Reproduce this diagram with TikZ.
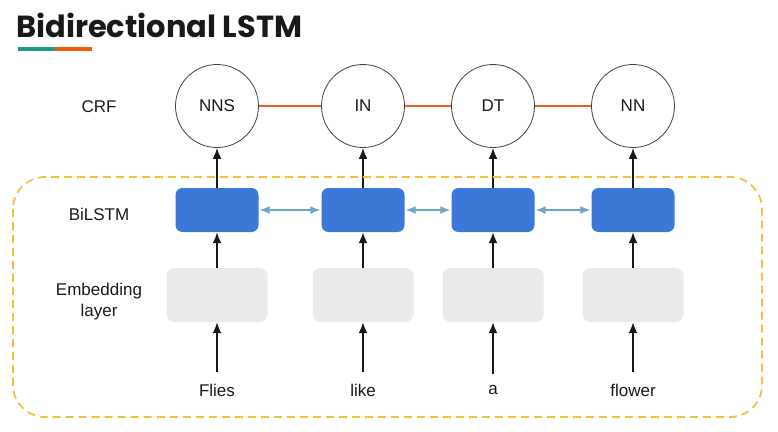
\documentclass[tikz,border=0pt]{standalone}
\usepackage{fontspec}
\setmainfont{Liberation Sans}
\newfontfamily\titlefont{Poppins}
\usepackage{tikz}
\usetikzlibrary{arrows.meta}

\definecolor{LstmBlue}{RGB}{60,120,216}
\definecolor{EmbedGray}{RGB}{232,234,235}
\definecolor{ArrowBlue}{RGB}{108,166,202}
\definecolor{CrfOrange}{RGB}{232,96,28}
\definecolor{FrameYellow}{RGB}{245,193,60}
\definecolor{TitleTeal}{RGB}{26,155,136}
\definecolor{TitleOrange}{RGB}{240,90,10}

\begin{document}
\begin{tikzpicture} [
    x = 1pt, y = -1pt,
    every node/.style = {font=\fontsize{17}{21}\selectfont, text=black!90},
    crf/.style = {circle, draw=black!75, line width=0.8pt, minimum size=83pt, inner sep=0pt},
    lstm/.style = {rectangle, rounded corners=7pt, fill=LstmBlue, minimum width=83pt, minimum height=44pt},
    embed/.style = {rectangle, rounded corners=8pt, fill=EmbedGray, minimum width=101pt, minimum height=54pt},
    up/.style = {-{Latex[length=11pt,width=9pt]}, line width=1.8pt, black!90},
    both/.style = {{Latex[length=10pt,width=8pt]}-{Latex[length=10pt,width=8pt]}, line width=1.4pt, ArrowBlue, shorten <=1pt, shorten >=1pt},
    crfline/.style = {line width=1.2pt, CrfOrange}
]
    \useasboundingbox (0,0) rectangle (778,431);

    % title
    \node [anchor=base west, inner sep=0pt, font=\titlefont\bfseries\fontsize{30.5}{33}\selectfont] (title) at (16,37) {Bidirectional LSTM};
    \fill [TitleTeal] (18,47) rectangle (55,51);
    \fill [TitleOrange] (55,47) rectangle (92,51);

    % row labels
    \node (crflabel) at (99,107) {CRF};
    \node (lstmlabel) at (99,214) {BiLSTM};
    \node [align=center] (embedlabel) at (99,302) {Embedding\\layer};

    % columns
    \foreach \x/\tag/\word [count=\i] in {217/NNS/Flies, 363/IN/like, 493/DT/a, 633/NN/flower} {
        \node [crf] (c\i) at (\x,106) {\tag};
        \node [lstm] (b\i) at (\x,210) {};
        \node [embed] (e\i) at (\x,295) {};
        \node (w\i) at (\x,390) {\word};
        \draw [up] (w\i.north) ++(0,-8) -- (e\i.south);
        \draw [up] (e\i.north) -- (b\i.south);
        \draw [up] (b\i.north) -- (c\i.south);
    }
    \foreach \a/\b in {1/2, 2/3, 3/4} {
        \draw [crfline] (c\a) -- (c\b);
        \draw [both] (b\a.east) -- (b\b.west);
    }

    \draw [FrameYellow, line width=1.8pt, dash pattern=on 8pt off 5pt, rounded corners=32pt] (13,177) rectangle (762,417);
\end{tikzpicture}
\end{document}
